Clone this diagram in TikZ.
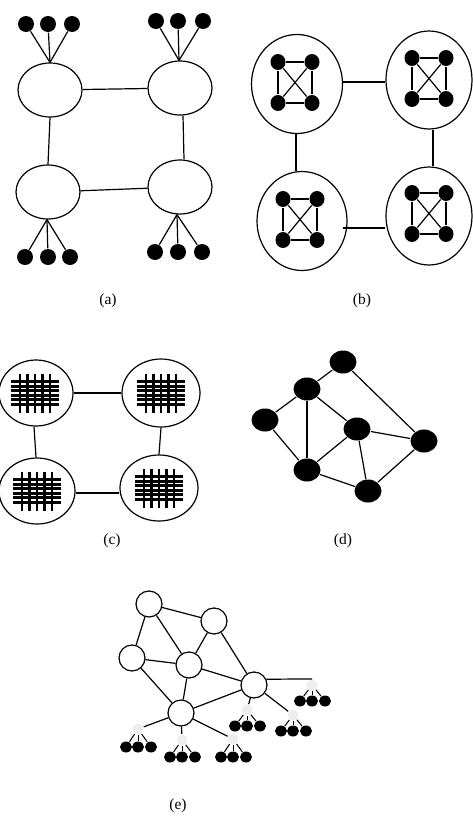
\documentclass[tikz,border=0pt]{standalone}
\usepackage{fontspec}
\setmainfont{Liberation Serif}
\usetikzlibrary{shapes.geometric}
\begin{document}
\begin{tikzpicture}[x=1pt,y=-1pt,line width=1.2pt,
  wring/.style={draw,fill=white,ellipse,inner sep=0pt},
  bdot/.style={fill=black,ellipse,inner sep=0pt,minimum width=16,minimum height=16},
  sdot/.style={fill=black,ellipse,inner sep=0pt,minimum width=12,minimum height=11},
  hub/.style={fill=gray!13,circle,inner sep=0pt,minimum size=11},
  ddot/.style={fill=black,ellipse,inner sep=0pt,minimum width=27,minimum height=23},
  ecirc/.style={draw,fill=white,circle,inner sep=0pt,minimum size=26},
  lab/.style={font=\fontsize{15.5}{17}\selectfont,inner sep=0pt},
  weave/.pic={
    \foreach \dx in {-15,-7.5,0,7.5,15} \draw[line width=2.6pt] (\dx,-19.5) -- (\dx,19.5);
    \foreach \dy in {-11.25,-6.75,-2.25,2.25,6.75,11.25} \draw[line width=2.6pt] (-24,\dy) -- (24,\dy);
  }]
\useasboundingbox (0,0) rectangle (473,825);

% ---------------- (a)
\node[wring,minimum width=64,minimum height=54] (A1) at (50,90) {};
\node[wring,minimum width=64,minimum height=54] (A2) at (180,88) {};
\node[wring,minimum width=64,minimum height=54] (A3) at (48,192) {};
\node[wring,minimum width=64,minimum height=54] (A4) at (180,187) {};
\draw (A1) -- (A2);
\draw (A1.south) -- (A3.north);
\draw ([xshift=3]A2.south) -- ([xshift=4]A4.north);
\draw (A3) -- (A4);
\node[bdot] (a11) at (26,24) {};
\node[bdot] (a12) at (48,24) {};
\node[bdot] (a13) at (72,24) {};
\node[bdot] (a21) at (156,21) {};
\node[bdot] (a22) at (178,21) {};
\node[bdot] (a23) at (203,21) {};
\node[bdot] (a31) at (25,257) {};
\node[bdot] (a32) at (48,257) {};
\node[bdot] (a33) at (70,257) {};
\node[bdot] (a41) at (155,252) {};
\node[bdot] (a42) at (178,252) {};
\node[bdot] (a43) at (202,252) {};
\foreach \d in {a11,a12,a13} \draw (\d) -- (A1.north);
\foreach \d in {a21,a22,a23} \draw (\d) -- ([xshift=-1]A2.north);
\foreach \d in {a31,a32,a33} \draw (\d) -- ([xshift=-1]A3.south);
\foreach \d in {a41,a42,a43} \draw (\d) -- ([xshift=-3]A4.south);
\node[lab] (la) at (108,301) {(a)};

% ---------------- (b)
\node[wring,minimum width=91,minimum height=99] (B1) at (297,84) {};
\node[wring,minimum width=86,minimum height=98] (B2) at (429,80) {};
\node[wring,minimum width=90,minimum height=99] (B3) at (302,221) {};
\node[wring,minimum width=86,minimum height=98] (B4) at (429,216) {};
\draw ([shift={(0,-2)}]B1.east) -- ([shift={(0,2)}]B2.west);
\draw ([xshift=-1]B1.south) -- ([xshift=-6]B3.north);
\draw ([xshift=4]B2.south) -- ([xshift=4]B4.north);
\draw ([shift={(-5,7)}]B3.east) -- ([shift={(0,12)}]B4.west);
\foreach \n/\x/\y in {B1/278/62, B2/412/58, B3/283/199, B4/412/193}{
  \node[bdot,minimum width=15] (\n a) at (\x,\y) {};
  \node[bdot,minimum width=15] (\n b) at (\x+34,\y) {};
  \node[bdot,minimum width=15] (\n c) at (\x,\y+41) {};
  \node[bdot,minimum width=15] (\n d) at (\x+34,\y+41) {};
  \draw (\n a) -- (\n b) -- (\n d) -- (\n c) -- (\n a);
  \draw (\n a) -- (\n d);
  \draw (\n b) -- (\n c);
}
\node[lab] (lb) at (362,301) {(b)};

% ---------------- (c)
\node[wring,minimum width=74,minimum height=66] (C1) at (36,393) {};
\node[wring,minimum width=78,minimum height=68] (C2) at (161,393) {};
\node[wring,minimum width=76,minimum height=66] (C3) at (37,491) {};
\node[wring,minimum width=78,minimum height=66] (C4) at (159,488) {};
\draw (C1) -- (C2);
\draw ([xshift=-2]C1.south) -- ([xshift=-1]C3.north);
\draw (C2.south) -- (C4.north);
\draw ([shift={(0,2)}]C3.east) -- ([shift={(0,5)}]C4.west);
\pic at (35,393) {weave};
\pic at (161,393) {weave};
\pic at (37,491) {weave};
\pic at (159,488) {weave};
\node[lab] (lc) at (112,541) {(c)};

% ---------------- (d)
\node[ddot] (D1) at (343,362) {};
\node[ddot] (D2) at (307,389) {};
\node[ddot] (D3) at (265,420) {};
\node[ddot] (D4) at (357,429) {};
\node[ddot] (D5) at (424,441) {};
\node[ddot] (D6) at (307,470) {};
\node[ddot] (D7) at (368,491) {};
\draw (D1) -- (D2);
\draw (D1) -- (D5);
\draw (D2) -- (D3);
\draw (D2) -- (D6);
\draw (D2) -- (D4);
\draw (D3) -- (D6);
\draw (D4) -- (D6);
\draw (D4) -- (D5);
\draw (D4) -- (D7);
\draw (D6) -- (D7);
\draw (D7) -- (D5);
\node[lab] (ld) at (343,541) {(d)};

% ---------------- (e)
\node[ecirc] (E1) at (149,604) {};
\node[ecirc] (E2) at (214,621) {};
\node[ecirc] (E3) at (132,658) {};
\node[ecirc] (E4) at (189,665) {};
\node[ecirc] (E5) at (254,685) {};
\node[ecirc] (E6) at (181,713) {};
\draw (E1) -- (E2);
\draw (E1) -- (E3);
\draw (E1) -- (E4);
\draw (E2) -- (E4);
\draw (E2) -- (E5);
\draw (E3) -- (E4);
\draw (E3) -- (E6);
\draw (E4) -- (E5);
\draw (E4) -- (E6);
\draw (E5) -- (E6);
\foreach \h/\x/\y/\dy in {H1/312/685/16, H2/247/710/16, H3/293/715/16, H4/138/729/18, H5/182/740/17, H6/233/739/18}{
  \node[hub] (\h) at (\x,\y) {};
  \node[sdot] (\h a) at (\x-12,\y+\dy) {};
  \node[sdot] (\h b) at (\x,\y+\dy) {};
  \node[sdot] (\h c) at (\x+13,\y+\dy) {};
  \draw[line width=1pt] (\h) -- (\h a);
  \draw[line width=1pt] (\h) -- (\h b);
  \draw[line width=1pt] (\h) -- (\h c);
}
\draw (E5.25) -- (H1.north);
\draw (E5) -- (H2);
\draw (E5) -- (H3);
\draw (E6) -- (H4);
\draw (E6) -- (H5);
\draw (E6) -- (H6);
\node[lab] (le) at (178,806) {(e)};
\end{tikzpicture}
\end{document}
